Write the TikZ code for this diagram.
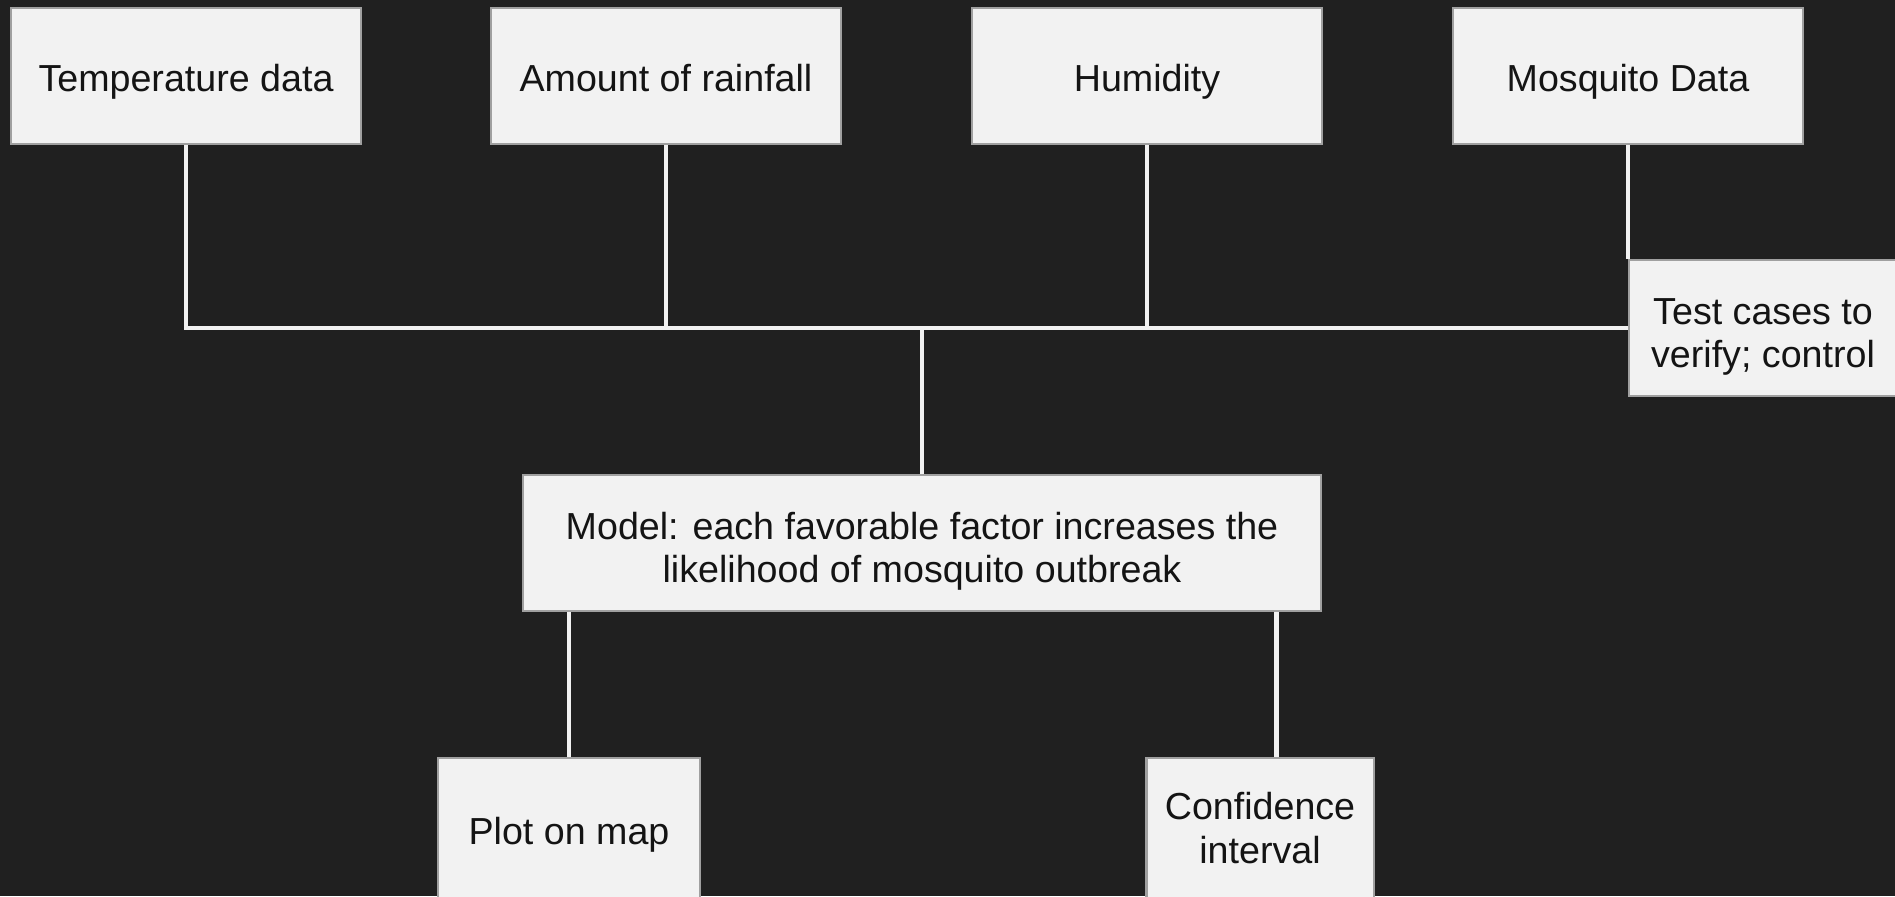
\documentclass[tikz,border=0pt]{standalone}
\usepackage{fontspec}
\setmainfont{Liberation Sans}
\usetikzlibrary{positioning}
\definecolor{canvas}{HTML}{202020}
\definecolor{boxfill}{HTML}{F2F2F2}
\definecolor{boxline}{HTML}{A0A0A0}
\definecolor{wire}{HTML}{F2F2F2}
\newcommand{\capstrut}{\rule[-0.22em]{0pt}{1.25em}}

\begin{document}
\begin{tikzpicture}[
    x=0.01cm, y=-0.01cm,
    databox/.style={draw=boxline, fill=boxfill, line width=0.6pt, minimum width=3.49cm, minimum height=1.36cm, inner sep=0pt, align=center, text=black!92, font=\fontsize{10.7}{12.4}\selectfont, execute at begin node=\capstrut, execute at end node=\capstrut},
    twoline/.style={text height=25pt, text depth=2.4pt},
    link/.style={draw=wire, line width=1.4pt}
]

\fill[canvas] (0,0) rectangle (1895,896);
\useasboundingbox (0,0) rectangle (1895,896);

\node[databox] (temp) at (186,76) {Temperature data};
\node[databox] (rain) at (666,76) {Amount of rainfall};
\node[databox] (humid) at (1147,76) {Humidity};
\node[databox] (mosq) at (1628,76) {Mosquito Data};
\node[databox, twoline, minimum width=2.68cm] (test) at (1763,328) {Test cases to\\verify; control};
\node[databox, twoline, minimum width=7.97cm] (model) at (922,543) {Model: each favorable factor increases the\\likelihood of mosquito outbreak};
\node[databox, minimum width=2.62cm, minimum height=1.42cm] (plot) at (569,829) {Plot on map};
\node[databox, twoline, text height=22pt, minimum width=2.27cm, minimum height=1.42cm] (conf) at (1260,829) {Confidence\\interval};

\draw[link] (temp.south) -- (temp.south |- test.west) -- (test.west);
\draw[link] (rain.south) -- (rain.south |- test.west);
\draw[link] (humid.south) -- (humid.south |- test.west);
\draw[link] (mosq.south) -- (mosq.south |- test.north);
\draw[link] (model.north) -- (model.north |- test.west);
\draw[link] (plot.north |- model.south) -- (plot.north);
\draw[link] ([xshift=-0.45cm]model.south east) -- ([xshift=-0.45cm]model.south east |- conf.north);
\end{tikzpicture}
\end{document}
